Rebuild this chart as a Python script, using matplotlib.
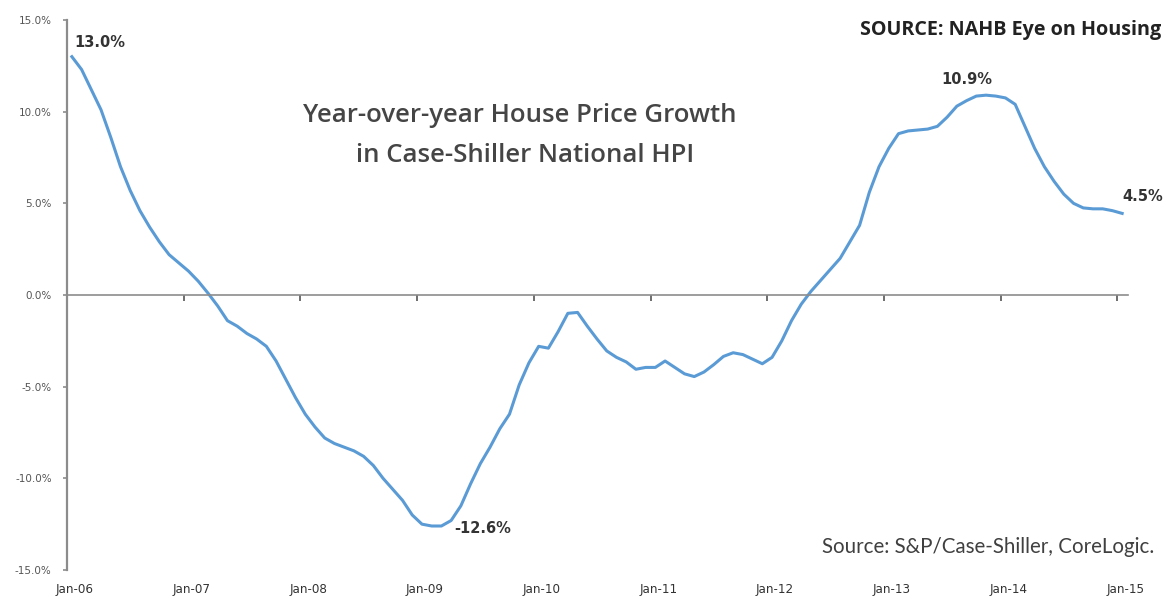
import matplotlib
matplotlib.use("Agg")
import matplotlib.pyplot as plt
import numpy as np

# Monthly YoY growth (%) Jan-06 .. Jan-15
growth = [
    13.0, 12.3, 11.2, 10.1, 8.6, 7.0, 5.7, 4.6, 3.7, 2.9, 2.2, 1.75,          # 2006
    1.3, 0.75, 0.1, -0.6, -1.4, -1.7, -2.1, -2.4, -2.8, -3.6, -4.6, -5.6,     # 2007
    -6.5, -7.2, -7.8, -8.1, -8.3, -8.5, -8.8, -9.3, -10.0, -10.6, -11.2, -12.0,  # 2008
    -12.5, -12.6, -12.6, -12.3, -11.5, -10.3, -9.2, -8.3, -7.3, -6.5, -4.9, -3.7,  # 2009
    -2.8, -2.9, -2.0, -1.0, -0.95, -1.7, -2.4, -3.05, -3.4, -3.65, -4.05, -3.95,  # 2010
    -3.95, -3.6, -3.95, -4.3, -4.45, -4.2, -3.8, -3.35, -3.15, -3.25, -3.5, -3.75,  # 2011
    -3.4, -2.5, -1.4, -0.5, 0.2, 0.8, 1.4, 2.0, 2.9, 3.8, 5.6, 7.0,           # 2012
    8.0, 8.8, 8.95, 9.0, 9.05, 9.2, 9.7, 10.3, 10.6, 10.85, 10.9, 10.85,       # 2013
    10.75, 10.4, 9.2, 8.0, 7.0, 6.2, 5.5, 5.0, 4.75, 4.7, 4.7, 4.6,           # 2014
    4.45,                                                                      # 2015
]
year_labels = ["Jan-06", "Jan-07", "Jan-08", "Jan-09", "Jan-10",
               "Jan-11", "Jan-12", "Jan-13", "Jan-14", "Jan-15"]
y_ticks = [15, 10, 5, 0, -5, -10, -15]
y_tick_labels = ["15.0%", "10.0%", "5.0%", "0.0%", "-5.0%", "-10.0%", "-15.0%"]
annotations = [(0, "13.0%"), (37, "-12.6%"), (94, "10.9%"), (108, "4.5%")]

months = np.arange(len(growth))

fig = plt.figure(figsize=(11.66, 6.04), dpi=100)
ax = fig.add_axes([67 / 1166, 1 - 570 / 604, (1128 - 67) / 1166, (570 - 20) / 604])

ax.plot(months, growth, color="#5b9bd5", lw=2.2, solid_joinstyle="round")

ax.set_xlim(-0.5, 108.6)
ax.set_ylim(-15, 15)

for s in ["top", "right"]:
    ax.spines[s].set_visible(False)
ax.spines["left"].set_color("#8c8c8c")
ax.spines["left"].set_linewidth(1.6)
ax.spines["bottom"].set_position(("data", 0))
ax.spines["bottom"].set_color("#8c8c8c")
ax.spines["bottom"].set_linewidth(1.2)

ax.set_yticks(y_ticks)
ax.set_yticklabels(y_tick_labels, fontsize=7.5, color="#555555")
ax.tick_params(axis="y", length=3, width=1.2, color="#8c8c8c", pad=8)

tick_pos = [12 * k - 0.5 for k in range(len(year_labels))]
ax.set_xticks(tick_pos)
ax.set_xticklabels([])
ax.tick_params(axis="x", length=4, width=1.2, color="#555555", direction="out")

for k, lab in enumerate(year_labels):
    ax.text(12 * k + 0.3, -0.035, lab, transform=ax.get_xaxis_transform(),
            ha="center", va="center", fontsize=9.5, color="#333333",
            family="DejaVu Sans", fontstretch="condensed")

# point labels
offs = {0: (0.3, 0.75, "left"), 37: (2.3, -0.15, "left"),
        94: (-2.0, 0.85, "center"), 108: (0.0, 0.9, "left")}
for i, txt in annotations:
    dx, dy, ha = offs[i]
    ax.text(i + dx, growth[i] + dy, txt, ha=ha, va="center",
            fontsize=10.5, fontweight="bold", color="#333333", family="DejaVu Sans")

fig.text(520 / 1166, 1 - 115 / 604, "Year-over-year House Price Growth",
         ha="center", va="center", fontsize=18.5, fontweight="semibold",
         color="#454545", family="Open Sans")
fig.text(525 / 1166, 1 - 155 / 604, "in Case-Shiller National HPI",
         ha="center", va="center", fontsize=18.5, fontweight="semibold",
         color="#454545", family="Open Sans")
fig.text(860 / 1166, 1 - 30 / 604, "SOURCE: NAHB Eye on Housing",
         ha="left", va="center", fontsize=14.2, fontweight="bold", color="#222222",
         family="Open Sans")
fig.text(988 / 1166, 1 - 547 / 604, "Source: S&P/Case-Shiller, CoreLogic.",
         ha="center", va="center", fontsize=14.8, color="#404040", family="Lato")

fig.savefig("out.png", dpi=100)
